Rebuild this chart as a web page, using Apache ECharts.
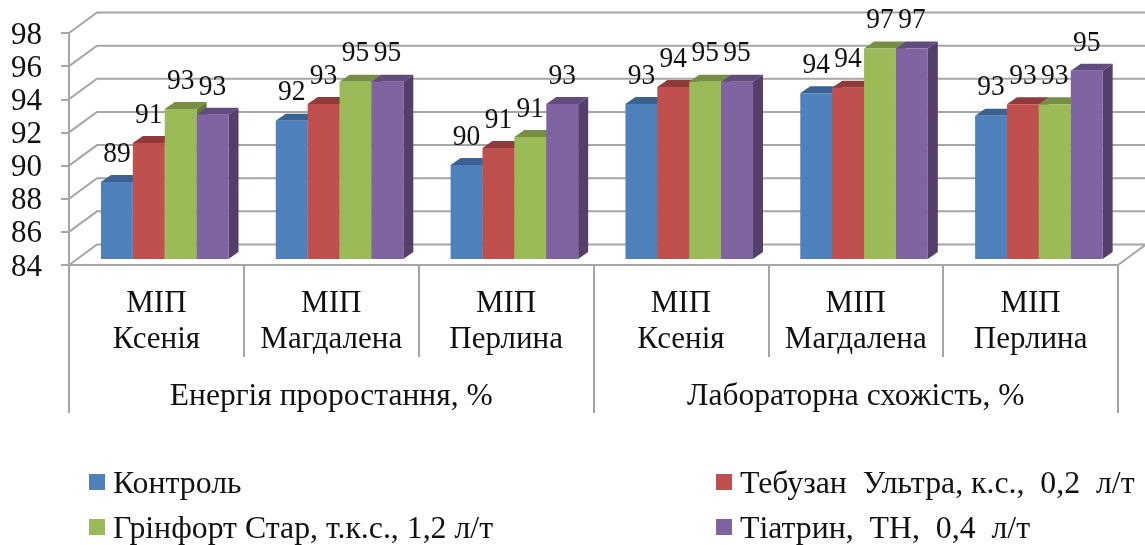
<!DOCTYPE html>
<html>
<head>
<meta charset="utf-8">
<style>html,body{margin:0;padding:0;background:#fff}#c{width:1145px;height:545px}</style>
<script src="https://cdn.jsdelivr.net/npm/echarts@6/dist/echarts.min.js"></script>
</head>
<body>
<div id="c"></div>
<script>
const categories = ['МІП\nКсенія','МІП\nМагдалена','МІП\nПерлина','МІП\nКсенія','МІП\nМагдалена','МІП\nПерлина'];
const groups = ['Енергія проростання, %','Лабораторна схожість, %'];
const yTicks = [84,86,88,90,92,94,96,98];
const control = [88.65,92.35,89.67,93.35,94.0,92.65];
const tebuzan = [91.0,93.35,90.7,94.38,94.34,93.34];
const grinfort = [93.05,94.7,91.36,94.7,96.7,93.34];
const tiatryn = [92.7,94.7,93.35,94.7,96.7,95.36];
const names = ['Контроль','Тебузан  Ультра, к.с.,  0,2  л/т','Грінфорт Стар, т.к.с., 1,2 л/т','Тіатрин,  ТН,  0,4  л/т'];
const colors = ['#4F81BD','#C0504D','#9BBB59','#8064A2'];
const tops = ['#3A6393','#8F3A38','#778F45','#624B7E'];
const sides = ['#34587F','#7F3331','#667B39','#533F6A'];

const serif = '"Liberation Serif", "Times New Roman", serif';
const gray = '#A6A6A6';
const lineW = 2;
const wallDx = 28, wallDy = -20.5;       // oblique offset of the back wall
const barShiftX = 8.3, barShiftY = -6;   // bars stand in the middle of the floor
const depthX = 10, depthY = -7;          // visible depth of each bar

function wallSeries() {
  return {
    type: 'custom', silent: true, z: 1,
    data: yTicks.map(v => [0, v]),
    encode: { y: 1 },
    renderItem(params, api) {
      const cs = params.coordSys;
      const y = api.coord([0, api.value(1)])[1];
      const x0 = cs.x, x1 = x0 + cs.width;
      const pts = [[x0, y], [x0 + wallDx, y + wallDy], [x1 + wallDx, y + wallDy]];
      const children = [{ type: 'polyline', shape: { points: pts }, style: { fill: null, stroke: gray, lineWidth: lineW } }];
      if (api.value(1) === yTicks[0]) {
        children.push({ type: 'line', shape: { x1: x1, y1: y, x2: x1 + wallDx, y2: y + wallDy }, style: { stroke: gray, lineWidth: lineW } });
        children.push({ type: 'line', shape: { x1: x0, y1: y, x2: x0, y2: cs.y }, style: { stroke: gray, lineWidth: lineW } });
      }
      return { type: 'group', children };
    }
  };
}

function barSeries(idx, values) {
  return {
    type: 'custom', name: names[idx], z: 3,
    itemStyle: { color: colors[idx] },
    data: values.map((v, i) => [i, v]),
    encode: { x: 0, y: 1 },
    renderItem(params, api) {
      const c = api.value(0), v = api.value(1);
      const band = api.size([1, 0])[0];
      const bw = band * 0.1824;
      const p = api.coord([c, v]), b = api.coord([c, yTicks[0]]);
      const l = p[0] + barShiftX - 2 * bw + idx * bw, r = l + bw;
      const t = p[1] + barShiftY, f = b[1] + barShiftY;
      return {
        type: 'group',
        children: [
          { type: 'polygon', shape: { points: [[r, t], [r + depthX, t + depthY], [r + depthX, f + depthY], [r, f]] }, style: { fill: sides[idx] } },
          { type: 'polygon', shape: { points: [[l, t], [l + depthX, t + depthY], [r + depthX, t + depthY], [r, t]] }, style: { fill: tops[idx] } },
          { type: 'rect', shape: { x: l, y: t, width: bw, height: f - t }, style: { fill: colors[idx] } },
          { type: 'text', z2: 100, x: (l + r) / 2, y: t - 28, scaleY: 1.08, style: { x: 0, y: 0, text: String(Math.round(v)), align: 'center', verticalAlign: 'middle', font: '27.5px ' + serif, fill: '#111' } }
        ]
      };
    }
  };
}

const axisStyle = { lineStyle: { color: gray, width: lineW } };
const legendBase = {
  orient: 'vertical', icon: 'rect', itemWidth: 16, itemHeight: 16, itemGap: 7, selectedMode: false, padding: 0,
  height: 100,
  formatter: name => '{t|' + name + '}',
  textStyle: { fontFamily: serif, fontSize: 31.8, color: '#111',
    rich: { t: { fontFamily: serif, fontSize: 31.8, lineHeight: 32, color: '#111', padding: [6, 0, 0, 3] } } }
};

const chart = echarts.init(document.getElementById('c'), null, { renderer: 'canvas' });
chart.setOption({
  animation: false,
  backgroundColor: '#fff',
  grid: { left: 69, right: 27, top: 33, bottom: 280, containLabel: false },
  xAxis: [
    { type: 'category', data: categories, position: 'bottom',
      axisLine: { show: true, ...axisStyle }, axisTick: { show: true, alignWithLabel: false, length: 92, ...axisStyle },
      axisLabel: { interval: 0, margin: 21, fontFamily: serif, fontSize: 31, lineHeight: 36, color: '#111' } },
    { type: 'category', data: groups, position: 'bottom',
      axisLine: { show: false }, axisTick: { show: true, alignWithLabel: false, length: 148, ...axisStyle },
      axisLabel: { interval: 0, margin: 116, fontFamily: serif, fontSize: 31.5, lineHeight: 32, color: '#111' } }
  ],
  yAxis: {
    type: 'value', min: 84, max: 98, interval: 2,
    axisLine: { show: true, onZero: false, ...axisStyle }, axisTick: { show: true, length: 8, ...axisStyle },
    splitLine: { show: false },
    axisLabel: { margin: 27, fontFamily: serif, fontSize: 31, color: '#111',
      formatter: v => '{n|' + v + '}',
      rich: { n: { fontFamily: serif, fontSize: 31, color: '#111', padding: [5, 0, 0, 0] } } }
  },
  legend: [
    { ...legendBase, left: 89, top: 463, data: [names[0], names[2]] },
    { ...legendBase, left: 716, top: 463, data: [names[1], names[3]] }
  ],
  series: [wallSeries(), barSeries(0, control), barSeries(1, tebuzan), barSeries(2, grinfort), barSeries(3, tiatryn)]
});
</script>
</body>
</html>
